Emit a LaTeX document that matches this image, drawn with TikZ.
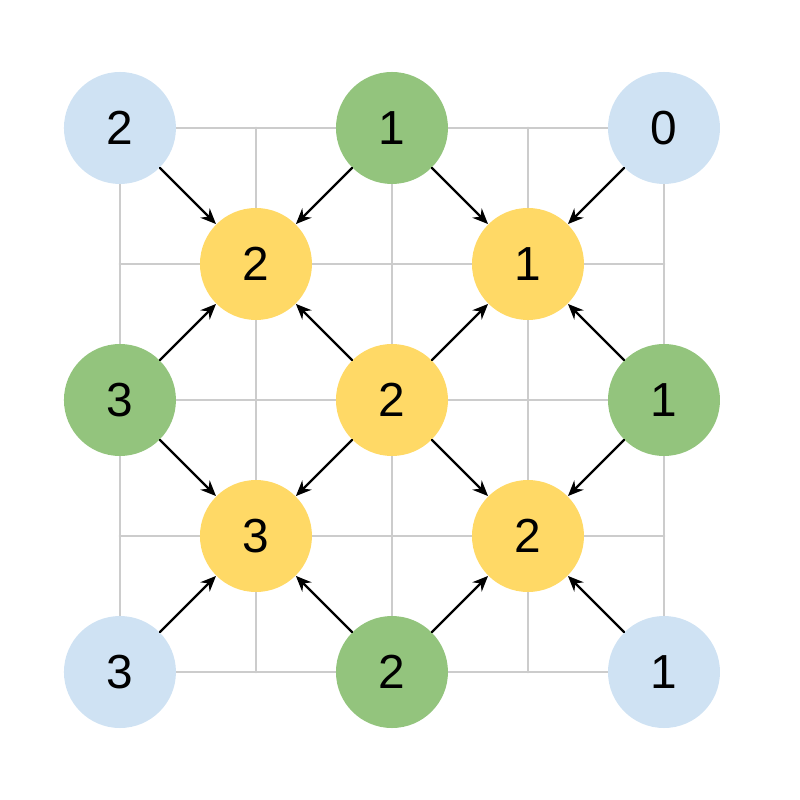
\documentclass[tikz,border=0pt]{standalone}
\usepackage{fontspec}
\setmainfont{Liberation Sans}
\usetikzlibrary{arrows.meta}
\definecolor{blu}{HTML}{CFE2F3}
\definecolor{grn}{HTML}{93C47D}
\definecolor{ylw}{HTML}{FFD966}
\definecolor{gry}{HTML}{CCCCCC}
\tikzset{
	pt/.style={circle,minimum size=1.647cm,inner sep=0pt,font=\fontsize{20}{24}\selectfont},
	ptb/.style={pt,fill=blu},
	ptg/.style={pt,fill=grn},
	pty/.style={pt,fill=ylw}
}
\begin{document}
\begin{tikzpicture}[x=2cm,y=2cm,>={Stealth[length=6.5pt,width=5.5pt]},line join=round,line cap=round]
	\useasboundingbox (-0.882,-0.941) rectangle (5,4.941);
	% grid
	\draw[gry,line width=1.2pt,step=2cm] (0,0) grid (4,4);
	% corners
	\node[ptb] (tl) at (0,4) {2};
	\node[ptb] (tr) at (4,4) {0};
	\node[ptb] (bl) at (0,0) {3};
	\node[ptb] (br) at (4,0) {1};
	% edges
	\node[ptg] (t) at (2,4) {1};
	\node[ptg] (l) at (0,2) {3};
	\node[ptg] (r) at (4,2) {1};
	\node[ptg] (b) at (2,0) {2};
	% inner
	\node[pty] (ytl) at (1,3) {2};
	\node[pty] (ytr) at (3,3) {1};
	\node[pty] (c) at (2,2) {2};
	\node[pty] (ybl) at (1,1) {3};
	\node[pty] (ybr) at (3,1) {2};
	% arrows
	\draw[->,line width=1pt] (tl)--(ytl); \draw[->,line width=1pt] (t)--(ytl); \draw[->,line width=1pt] (t)--(ytr);
	\draw[->,line width=1pt] (tr)--(ytr); \draw[->,line width=1pt] (l)--(ytl); \draw[->,line width=1pt] (l)--(ybl);
	\draw[->,line width=1pt] (c)--(ytl); \draw[->,line width=1pt] (c)--(ytr); \draw[->,line width=1pt] (c)--(ybl);
	\draw[->,line width=1pt] (c)--(ybr); \draw[->,line width=1pt] (r)--(ytr); \draw[->,line width=1pt] (r)--(ybr);
	\draw[->,line width=1pt] (bl)--(ybl); \draw[->,line width=1pt] (b)--(ybl); \draw[->,line width=1pt] (b)--(ybr);
	\draw[->,line width=1pt] (br)--(ybr);
\end{tikzpicture}
\end{document}
